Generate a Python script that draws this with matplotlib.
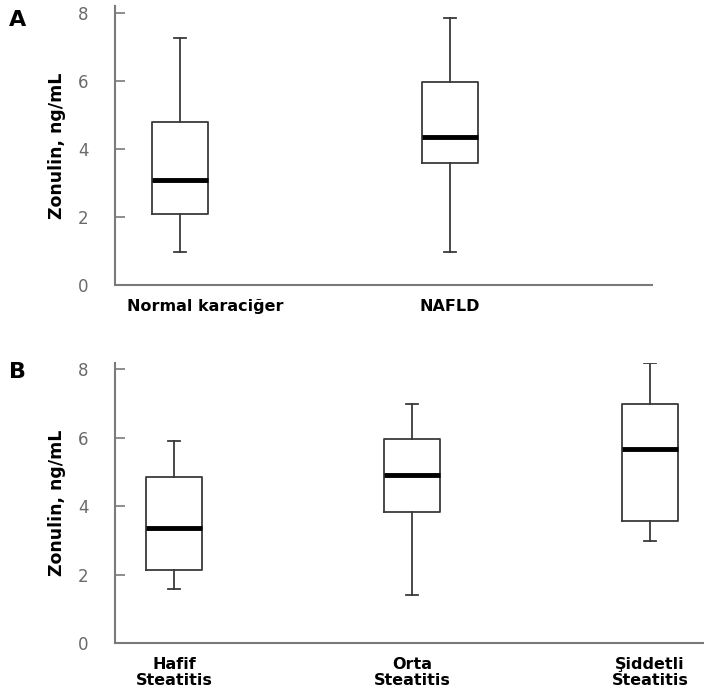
import matplotlib
matplotlib.use("Agg")
import matplotlib.pyplot as plt
from matplotlib.transforms import ScaledTranslation

# Panel A: liver status groups
groups_a = ["Normal karaciğer", "NAFLD"]
whislo_a = [0.98, 0.98]
q1_a = [2.09, 3.58]
med_a = [3.09, 4.34]
q3_a = [4.79, 5.98]
whishi_a = [7.27, 7.87]

# Panel B: steatosis grade
groups_b = ["Hafif\nSteatitis", "Orta\nSteatitis", "Şiddetli\nSteatitis"]
whislo_b = [1.58, 1.41, 3.00]
q1_b = [2.14, 3.83, 3.57]
med_b = [3.36, 4.91, 5.69]
q3_b = [4.85, 5.96, 6.98]
whishi_b = [5.92, 6.99, 8.18]

yticks = [0, 2, 4, 6, 8]
ylabel = "Zonulin, ng/mL"

SPINE = "#7a7a7a"
BOXC = "#3a3a3a"


def make_stats(labels, lo, q1, med, q3, hi):
    return [
        {"label": l, "whislo": a, "q1": b, "med": c, "q3": d, "whishi": e, "fliers": []}
        for l, a, b, c, d, e in zip(labels, lo, q1, med, q3, hi)
    ]


def draw_panel(ax, stats, width, xlim):
    pos = list(range(1, len(stats) + 1))
    ax.bxp(
        stats, positions=pos, widths=width, showfliers=False, capwidths=width * 0.22,
        boxprops=dict(color=BOXC, linewidth=1.3),
        whiskerprops=dict(color=BOXC, linewidth=1.3),
        capprops=dict(color=BOXC, linewidth=1.3),
        medianprops=dict(color="black", linewidth=3.5, solid_capstyle="butt"),
    )
    ax.set_xlim(*xlim)
    ax.set_ylim(0, 8.2)
    ax.set_yticks(yticks)
    ax.set_xticks(pos)
    ax.set_xticklabels([s["label"] for s in stats], fontsize=11.5,
                       fontweight="bold", color="black", linespacing=1.1)
    ax.set_ylabel(ylabel, fontsize=12.5, fontweight="bold", labelpad=9)
    for side in ("top", "right"):
        ax.spines[side].set_visible(False)
    for side in ("left", "bottom"):
        ax.spines[side].set_color(SPINE)
        ax.spines[side].set_linewidth(1.5)
    ax.tick_params(axis="y", direction="in", length=7, width=1.2, color=SPINE,
                   labelsize=12, labelcolor="#6a6a6a", pad=19)
    ax.tick_params(axis="x", length=0, pad=10)


fig = plt.figure(figsize=(7.04, 7.00), dpi=100)

ax_a = fig.add_axes([0.1634, 0.593, 0.7628, 0.398])
draw_panel(ax_a, make_stats(groups_a, whislo_a, q1_a, med_a, q3_a, whishi_a),
           0.207, (0.759, 2.748))
lbl = ax_a.get_xticklabels()[0]
lbl.set_transform(lbl.get_transform() + ScaledTranslation(0.25, 0, fig.dpi_scale_trans))

ax_b = fig.add_axes([0.1634, 0.081, 0.8366, 0.401])
draw_panel(ax_b, make_stats(groups_b, whislo_b, q1_b, med_b, q3_b, whishi_b),
           0.235, (0.752, 3.227))

fig.text(0.013, 0.972, "A", fontsize=16, fontweight="bold", va="center")
fig.text(0.013, 0.468, "B", fontsize=16, fontweight="bold", va="center")

fig.savefig("out.png", dpi=100, facecolor="white")
